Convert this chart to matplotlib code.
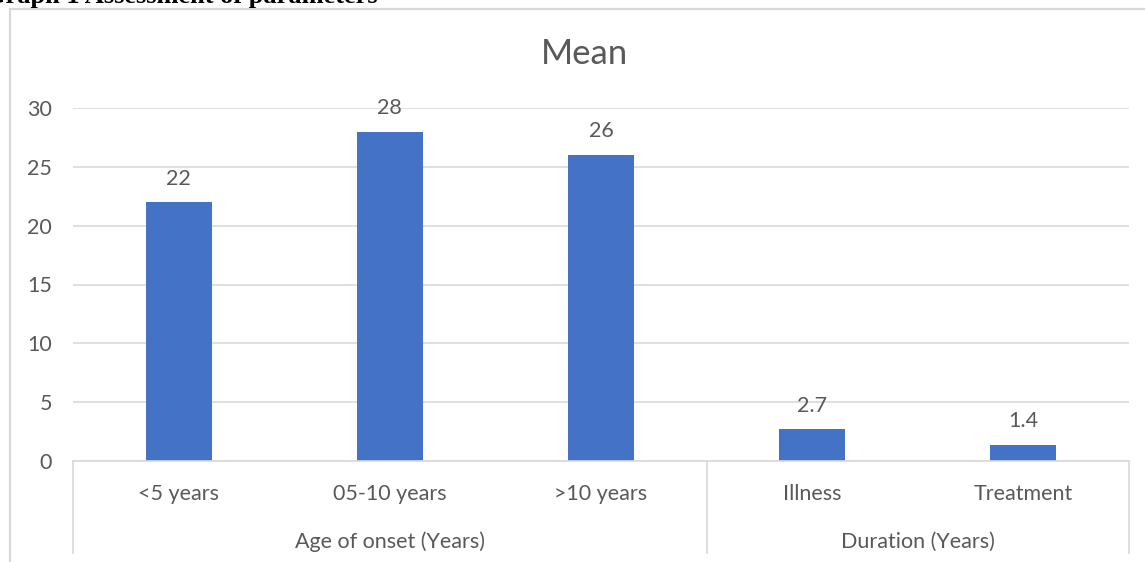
import matplotlib.pyplot as plt
import matplotlib.patches as patches
import matplotlib.transforms as mtransforms

plt.rcParams['font.family'] = ['Lato', 'DejaVu Sans']

categories = ["<5 years", "05-10 years", ">10 years", "Illness", "Treatment"]
values = [22, 28, 26, 2.7, 1.4]
value_labels = ["22", "28", "26", "2.7", "1.4"]
groups = ["Age of onset (Years)", "Duration (Years)"]
group_sizes = [3, 2]
yticks = [0, 5, 10, 15, 20, 25, 30]

text_c = "#595959"
line_c = "#D9D9D9"
bar_c = "#4472C4"
fs = 15.5

W, H = 1145, 562
fig = plt.figure(figsize=(W / 100, H / 100), dpi=100)

# plot area in pixel coordinates
left, right, top, bottom = 73, 1129, 108, 461
ax = fig.add_axes([left / W, (H - bottom) / H, (right - left) / W, (bottom - top) / H])

x = list(range(len(categories)))
ax.bar(x, values, width=0.3125, color=bar_c, zorder=3)
ax.set_xlim(-0.5, len(categories) - 0.5)
ax.set_ylim(0, 30)

for xi, v, lab in zip(x, values, value_labels):
    ax.annotate(lab, (xi, v), xytext=(0, 17), textcoords="offset points",
                ha="center", va="center", fontsize=fs, color=text_c)

ax.set_yticks(yticks)
ax.set_yticklabels([str(t) for t in yticks], fontsize=fs, color=text_c)
ax.tick_params(axis="y", length=0, pad=15)
ax.set_xticks([])
ax.yaxis.grid(True, color=line_c, linewidth=1.2, zorder=0)
for s in ["left", "right", "top"]:
    ax.spines[s].set_visible(False)
ax.spines["bottom"].set_color(line_c)
ax.spines["bottom"].set_linewidth(1.2)
ax.spines["bottom"].set_zorder(4)

# multi-level category axis
trans = mtransforms.blended_transform_factory(ax.transData, ax.transAxes)
span = bottom - top
sep_end = -(553 - bottom) / span
for xi, lab in zip(x, categories):
    ax.text(xi, -(494 - bottom) / span, lab, transform=trans, ha="center",
            va="center", fontsize=fs, color=text_c)

start = 0
edges = [-0.5]
for g, n in zip(groups, group_sizes):
    mid = start + (n - 1) / 2
    ax.text(mid, -(542 - bottom) / span, g, transform=trans, ha="center",
            va="center", fontsize=fs, color=text_c)
    start += n
    edges.append(start - 0.5)
for e in edges:
    ax.plot([e, e], [0, sep_end], transform=trans, color=line_c,
            linewidth=1.2, clip_on=False)

# chart title
fig.text(585 / W, 1 - 54 / H, "Mean", ha="center", va="center",
         fontsize=25, color=text_c)

# chart frame
fig.patches.append(patches.Rectangle((10 / W, -0.1), 1.2, 1 - 9 / H + 0.1,
                                     transform=fig.transFigure, fill=False,
                                     edgecolor=line_c, linewidth=1.6))

# caption above the chart, partly cut off at the top edge
fig.text(378 / W, 1 - 3 / H, "Graph 1 Assessment of parameters", ha="right",
         va="baseline", fontsize=19, fontweight="bold",
         family=["Liberation Serif", "DejaVu Serif"], color="black")

fig.savefig("out.png", dpi=100)
